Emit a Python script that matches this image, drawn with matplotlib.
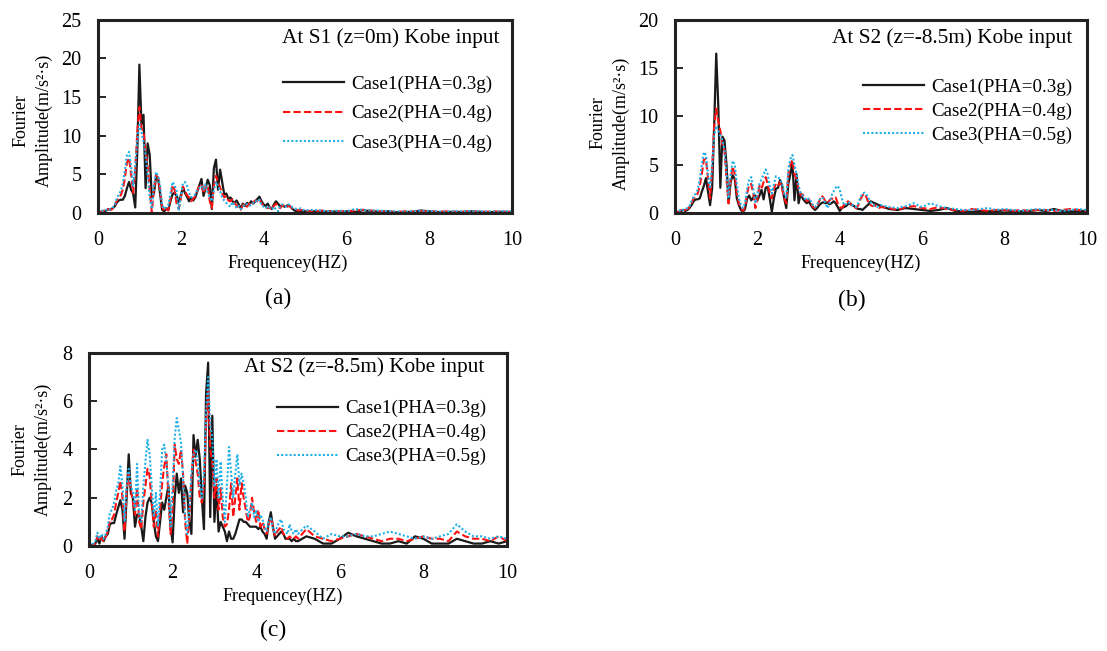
import matplotlib
matplotlib.use("Agg")
import matplotlib.pyplot as plt
import numpy as np

plt.rcParams['font.family'] = ['Liberation Serif', 'DejaVu Serif']

# frequency samples: 0.05 Hz up to 5 Hz, then 0.2 Hz up to 10 Hz
freq = np.concatenate([np.round(np.arange(0, 5.001, 0.05), 2),
                       np.round(np.arange(5.2, 10.001, 0.2), 2)])

case_labels_a = ["Case1(PHA=0.3g)", "Case2(PHA=0.4g)", "Case3(PHA=0.4g)"]
case_labels_bc = ["Case1(PHA=0.3g)", "Case2(PHA=0.4g)", "Case3(PHA=0.5g)"]

# (a) At S1 (z=0m)
a_case1 = [0.0, 0.1, 0.2, 0.15, 0.3, 0.5, 0.4, 0.6, 0.8, 1.3,
           1.6, 1.7, 1.7, 2.2, 3.2, 4.0, 3.0, 2.5, 0.7, 8.0,
           19.2, 11.5, 12.7, 3.2, 9.0, 7.5, 2.0, 2.5, 4.5, 4.6,
           2.5, 0.4, 0.2, 0.6, 0.4, 1.5, 2.4, 2.6, 2.2, 1.4,
           2.2, 3.3, 2.6, 2.1, 1.5, 2.0, 1.6, 2.0, 2.8, 3.6,
           4.4, 2.2, 3.2, 4.3, 3.6, 0.5, 5.8, 6.9, 3.0, 5.6,
           4.0, 2.4, 2.5, 1.8, 2.0, 1.5, 1.3, 1.6, 1.1, 0.6,
           1.2, 0.9, 1.3, 1.1, 1.5, 1.2, 1.5, 1.8, 2.1, 1.5,
           1.1, 0.9, 1.2, 0.7, 0.5, 1.1, 1.5, 1.2, 0.8, 1.0,
           0.8, 0.9, 1.0, 0.8, 0.5, 0.3, 0.2, 0.3, 0.2, 0.3,
           0.2,
           0.2, 0.1, 0.2, 0.15, 0.2, 0.1, 0.35, 0.2, 0.15, 0.2, 0.1, 0.1, 0.15,
           0.3, 0.2, 0.1, 0.1, 0.15, 0.1, 0.2, 0.15, 0.1, 0.1, 0.15, 0.1]
a_case2 = [0.0, 0.1, 0.2, 0.3, 0.2, 0.5, 0.4, 0.5, 0.9, 1.5,
           2.0, 2.3, 3.0, 4.5, 6.5, 7.1, 5.0, 2.6, 5.5, 10.5,
           13.7, 11.0, 10.5, 8.0, 6.0, 3.0, 0.1, 3.0, 4.9, 4.5,
           3.0, 0.8, 0.2, 0.5, 0.3, 1.8, 3.6, 3.0, 1.2, 0.5,
           1.8, 3.4, 2.9, 2.3, 2.0, 1.5, 1.8, 2.2, 2.9, 3.5,
           3.7, 2.5, 3.4, 3.6, 1.5, 0.6, 3.5, 4.8, 4.0, 3.3,
           2.5, 2.0, 2.2, 1.6, 1.5, 1.8, 1.2, 1.0, 0.6, 0.4,
           1.0, 1.3, 0.8, 1.2, 1.0, 1.4, 1.6, 1.5, 1.8, 1.2,
           1.0, 0.8, 0.6, 0.8, 0.4, 0.9, 1.2, 0.8, 0.6, 1.0,
           0.9, 0.7, 0.9, 0.8, 0.6, 0.5, 0.4, 0.3, 0.4, 0.3,
           0.3,
           0.2, 0.3, 0.15, 0.2, 0.2, 0.3, 0.4, 0.3, 0.2, 0.15, 0.1, 0.2, 0.15,
           0.25, 0.2, 0.15, 0.2, 0.1, 0.15, 0.2, 0.1, 0.15, 0.2, 0.1, 0.15]
a_case3 = [0.0, 0.1, 0.3, 0.2, 0.4, 0.3, 0.5, 0.6, 1.0, 1.8,
           2.4, 2.8, 3.8, 5.5, 7.5, 7.9, 6.0, 3.5, 6.0, 9.5,
           11.4, 10.5, 9.2, 7.5, 5.0, 2.0, 0.5, 3.5, 5.3, 4.8,
           3.5, 1.0, 0.5, 0.8, 1.0, 2.5, 4.0, 3.6, 2.8, 0.3,
           2.0, 3.8, 4.0, 3.5, 2.6, 2.0, 2.2, 2.4, 3.0, 3.2,
           3.5, 3.0, 3.7, 2.6, 2.0, 1.5, 3.0, 4.0, 3.5, 2.8,
           2.0, 1.6, 1.3, 1.0, 0.8, 1.4, 1.0, 0.6, 0.9, 0.5,
           0.8, 1.2, 1.1, 0.9, 1.0, 1.3, 1.6, 1.4, 1.7, 1.0,
           0.8, 0.6, 0.9, 0.7, 0.5, 0.8, 0.4, 0.2, 0.9, 1.1,
           1.0, 0.8, 1.1, 1.0, 0.7, 0.6, 0.5, 0.5, 0.6, 0.4,
           0.3,
           0.4, 0.3, 0.2, 0.3, 0.2, 0.5, 0.4, 0.3, 0.3, 0.2, 0.2, 0.15, 0.2,
           0.3, 0.25, 0.2, 0.15, 0.2, 0.2, 0.25, 0.15, 0.2, 0.15, 0.2, 0.2]

# (b) At S2 (z=-8.5m)
b_case1 = [0.0, 0.1, 0.1, 0.2, 0.3, 0.2, 0.3, 0.5, 0.8, 1.2,
           1.4, 1.4, 1.5, 2.2, 2.8, 3.6, 2.2, 0.8, 2.5, 9.0,
           16.5, 11.1, 2.6, 7.9, 7.5, 5.0, 1.0, 3.2, 3.9, 3.5,
           1.5, 0.8, 0.3, 0.1, 0.4, 1.5, 1.8, 1.3, 1.6, 1.8,
           1.3, 1.8, 2.4, 1.4, 2.6, 2.7, 1.5, 0.1, 1.5, 2.5,
           2.6, 3.4, 2.8, 1.5, 0.5, 3.0, 4.0, 5.2, 1.3, 4.0,
           1.0, 2.0, 1.5, 1.2, 1.0, 1.2, 0.8, 0.5, 0.3, 0.5,
           0.8, 1.0, 1.1, 1.0, 1.1, 0.9, 1.0, 1.2, 1.0, 0.6,
           0.2, 0.5, 0.6, 0.7, 0.9, 1.0, 0.8, 0.7, 0.5, 0.4,
           0.4, 0.3, 0.5, 0.7, 0.9, 1.2, 1.1, 1.0, 0.9, 0.8,
           0.7,
           0.4, 0.3, 0.5, 0.4, 0.3, 0.2, 0.3, 0.5, 0.2, 0.15, 0.1, 0.2, 0.15,
           0.2, 0.25, 0.2, 0.15, 0.2, 0.3, 0.2, 0.4, 0.2, 0.15, 0.2, 0.2]
b_case2 = [0.0, 0.1, 0.1, 0.3, 0.2, 0.3, 0.4, 0.6, 1.0, 1.5,
           1.8, 2.0, 2.8, 4.0, 5.5, 5.6, 3.5, 1.5, 4.5, 9.0,
           10.8, 9.5, 8.5, 7.0, 6.5, 3.5, 1.0, 3.5, 4.8, 4.0,
           2.0, 1.0, 0.5, 0.2, 0.6, 2.0, 2.9, 3.0, 2.0, 0.5,
           1.5, 2.8, 2.5, 3.2, 3.7, 3.0, 2.0, 1.5, 2.5, 3.0,
           2.8, 3.2, 2.5, 1.5, 1.0, 4.0, 5.0, 5.5, 4.0, 3.5,
           2.5, 1.8, 1.9, 1.6, 1.2, 1.4, 1.0, 0.6, 0.5, 0.8,
           1.2, 1.8, 1.6, 1.2, 1.0, 1.3, 1.5, 1.4, 1.6, 1.0,
           0.6, 0.5, 0.8, 1.0, 1.2, 1.0, 0.7, 0.6, 0.5, 0.8,
           1.4, 1.8, 2.0, 1.6, 1.0, 0.8, 0.7, 0.8, 0.6, 0.5,
           0.6,
           0.5, 0.3, 0.6, 0.7, 0.5, 0.4, 0.6, 0.4, 0.3, 0.2, 0.4, 0.3, 0.2,
           0.3, 0.3, 0.2, 0.3, 0.2, 0.3, 0.3, 0.2, 0.3, 0.4, 0.3, 0.2]
b_case3 = [0.0, 0.1, 0.2, 0.4, 0.3, 0.4, 0.5, 0.7, 1.2, 1.7,
           2.0, 2.4, 3.5, 5.0, 6.3, 6.0, 4.0, 2.5, 5.0, 8.0,
           9.0, 8.5, 8.0, 7.5, 6.5, 4.0, 1.5, 4.0, 5.4, 5.0,
           3.0, 1.5, 0.8, 0.5, 1.0, 2.5, 3.5, 3.7, 2.5, 1.0,
           2.0, 3.0, 3.5, 4.0, 4.5, 4.0, 2.8, 2.0, 3.0, 3.8,
           3.7, 3.5, 3.0, 2.0, 1.5, 4.5, 5.6, 6.0, 5.0, 4.0,
           2.8, 2.0, 1.8, 1.5, 1.3, 1.5, 1.2, 0.8, 0.6, 0.9,
           1.3, 1.6, 1.5, 1.0, 0.5, 1.0, 1.8, 2.2, 2.6, 2.8,
           2.4, 1.5, 0.8, 0.9, 1.1, 1.0, 0.8, 0.7, 0.6, 1.0,
           1.6, 2.0, 2.1, 1.9, 1.5, 1.1, 0.9, 0.7, 0.6, 0.7,
           0.8,
           0.6, 0.5, 0.7, 1.0, 0.6, 1.0, 0.7, 0.5, 0.4, 0.3, 0.3, 0.4, 0.5,
           0.3, 0.4, 0.3, 0.2, 0.3, 0.4, 0.3, 0.3, 0.2, 0.3, 0.4, 0.3]

# (c) At S2 (z=-8.5m)
c_case1 = [0.0, 0.05, 0.05, 0.1, 0.3, 0.1, 0.4, 0.2, 0.4, 0.5,
           0.9, 0.95, 0.95, 1.3, 1.6, 1.9, 1.5, 0.3, 2.0, 3.8,
           2.2, 2.0, 0.8, 1.3, 1.3, 0.8, 0.2, 1.2, 1.8, 2.0,
           1.8, 1.0, 0.4, 0.2, 1.0, 1.8, 1.5, 2.0, 2.5, 0.8,
           0.15, 2.0, 3.0, 2.2, 2.8, 1.4, 2.5, 2.2, 1.0, 0.5,
           4.6, 3.7, 4.4, 3.6, 2.0, 0.7, 6.3, 7.6, 1.2, 5.4,
           1.0, 2.5, 0.6, 1.0, 0.8, 0.6, 0.2, 0.6, 0.3, 0.3,
           0.5, 0.8, 1.1, 1.1, 1.0, 1.0, 0.9, 0.8, 0.8, 0.8,
           0.8, 0.7, 0.8, 0.6, 0.5, 0.3, 1.0, 1.4, 0.8, 0.3,
           0.4, 0.5, 0.6, 0.5, 0.3, 0.3, 0.3, 0.2, 0.3, 0.2,
           0.2,
           0.4, 0.3, 0.1, 0.1, 0.3, 0.55, 0.4, 0.3, 0.2, 0.1, 0.1, 0.2, 0.1,
           0.4, 0.3, 0.1, 0.1, 0.1, 0.3, 0.2, 0.1, 0.1, 0.2, 0.1, 0.2]
c_case2 = [0.0, 0.0, 0.05, 0.1, 0.4, 0.2, 0.35, 0.2, 0.4, 0.6,
           1.1, 1.1, 1.3, 1.8, 2.2, 2.7, 2.0, 0.6, 2.3, 3.0,
           2.4, 1.8, 1.3, 2.4, 1.0, 0.7, 1.8, 2.5, 3.2, 2.9,
           1.8, 0.8, 1.5, 0.4, 1.5, 2.6, 3.3, 3.8, 2.0, 0.5,
           1.5, 4.2, 3.6, 3.4, 4.0, 3.0, 1.0, 0.1, 1.2, 2.8,
           4.0, 3.5, 3.0, 2.0, 1.8, 2.5, 5.0, 6.5, 4.0, 3.5,
           2.0, 2.8, 1.5, 2.4, 1.2, 0.8, 0.9, 1.5, 2.6, 1.2,
           2.0, 2.8, 1.5, 2.6, 2.0, 1.5, 1.0, 1.2, 2.0, 1.4,
           1.0, 1.5, 0.8, 1.0, 0.7, 0.5, 0.9, 1.2, 0.8, 0.4,
           0.6, 0.7, 0.8, 0.5, 0.4, 0.3, 0.4, 0.3, 0.3, 0.4,
           0.3,
           0.7, 0.4, 0.3, 0.2, 0.3, 0.4, 0.5, 0.4, 0.3, 0.2, 0.3, 0.3, 0.2,
           0.3, 0.4, 0.3, 0.3, 0.2, 0.6, 0.4, 0.3, 0.3, 0.2, 0.4, 0.2]
c_case3 = [0.0, 0.0, 0.1, 0.2, 0.55, 0.3, 0.5, 0.3, 0.5, 0.8,
           1.4, 1.5, 1.8, 2.3, 2.6, 3.3, 2.5, 1.0, 2.5, 3.2,
           2.5, 2.2, 1.5, 3.4, 1.3, 1.0, 2.5, 3.5, 4.4, 3.8,
           2.5, 1.2, 2.2, 0.8, 2.2, 4.0, 4.2, 3.5, 2.5, 0.8,
           2.5, 4.5, 5.3, 4.8, 4.3, 2.8, 1.2, 0.5, 1.5, 3.0,
           3.8, 4.0, 3.5, 2.5, 2.0, 3.0, 5.5, 7.0, 5.0, 4.5,
           2.5, 3.6, 2.0, 3.5, 2.0, 1.0, 2.5, 4.1, 3.0, 2.0,
           3.0, 3.8, 2.5, 3.0, 2.6, 2.0, 1.2, 1.5, 1.8, 1.2,
           1.5, 1.0, 1.3, 1.1, 0.8, 0.6, 1.0, 1.2, 0.7, 0.5,
           0.8, 1.0, 1.1, 0.7, 0.6, 0.5, 0.9, 0.6, 0.5, 0.7,
           0.5,
           0.85, 0.6, 0.3, 0.5, 0.4, 0.4, 0.5, 0.4, 0.4, 0.5, 0.6, 0.5, 0.4,
           0.3, 0.4, 0.3, 0.4, 0.5, 0.9, 0.6, 0.4, 0.4, 0.3, 0.4, 0.3]

series_styles = [dict(color='#1a1a1a', linestyle='-', linewidth=1.6),
                 dict(color='#ff1010', linestyle=(0, (3.5, 1.5)), linewidth=1.5),
                 dict(color='#1fb0e8', linestyle=(0, (1, 1)), linewidth=1.5)]


def draw_panel(rect, curves, labels, ymax, ystep, title, tag, tag_xy,
               title_xy, leg_anchor, leg_spacing, ylab_x, ylab_y, xlab_x):
    ax = fig.add_axes(rect)
    for vals, lab, st in zip(curves, labels, series_styles):
        ax.plot(freq, vals, label=lab, **st)
    ax.set_xlim(0, 10)
    ax.set_ylim(0, ymax)
    ax.set_xticks(np.arange(0, 11, 2))
    ax.set_yticks(np.arange(0, ymax + 0.1, ystep))
    ax.tick_params(axis='y', direction='in', length=6, width=1.2, pad=12, labelsize=14.5)
    ax.tick_params(axis='x', length=0, pad=13, labelsize=14.5)
    for sp in ax.spines.values():
        sp.set_linewidth(2.2)
        sp.set_color('#222222')
    ax.text(title_xy[0], title_xy[1], title, transform=ax.transAxes,
            ha='right', va='center', fontsize=15.3)
    ax.legend(loc='upper left', bbox_to_anchor=leg_anchor, frameon=False,
              fontsize=13.7, handlelength=3.2, handletextpad=0.4,
              borderpad=0, borderaxespad=0, labelspacing=leg_spacing)
    ax.text(xlab_x, -0.26, "Frequencey(HZ)", transform=ax.transAxes,
            ha='center', va='center', fontsize=13)
    ax.text(ylab_x, ylab_y, "Fourier\nAmplitude(m/s²·s)", transform=ax.transAxes,
            ha='center', va='center', rotation=90, fontsize=13,
            multialignment='center', linespacing=1.45)
    fig.text(tag_xy[0], tag_xy[1], tag, ha='center', va='center', fontsize=17)
    return ax


fig = plt.figure(figsize=(11.07, 6.51), dpi=100)

draw_panel([0.0885, 0.673, 0.374, 0.2965], [a_case1, a_case2, a_case3],
           case_labels_a, 25, 5, "At S1 (z=0m) Kobe input", "(a)",
           (278 / 1107, 1 - 298 / 651), (0.969, 0.907), (0.447, 0.71), 0.62,
           -0.158, 0.477, 0.459)
draw_panel([0.6098, 0.673, 0.372, 0.2965], [b_case1, b_case2, b_case3],
           case_labels_bc, 20, 5, "At S2 (z=-8.5m) Kobe input", "(b)",
           (852 / 1107, 1 - 300 / 651), (0.966, 0.907), (0.456, 0.695), 0.35,
           -0.158, 0.466, 0.452)
draw_panel([0.0804, 0.1613, 0.3776, 0.2965], [c_case1, c_case2, c_case3],
           case_labels_bc, 8, 2, "At S2 (z=-8.5m) Kobe input", "(c)",
           (273 / 1107, 1 - 630 / 651), (0.945, 0.927), (0.45, 0.757), 0.35,
           -0.1376, 0.50, 0.464)

fig.savefig("out.png", dpi=100)
